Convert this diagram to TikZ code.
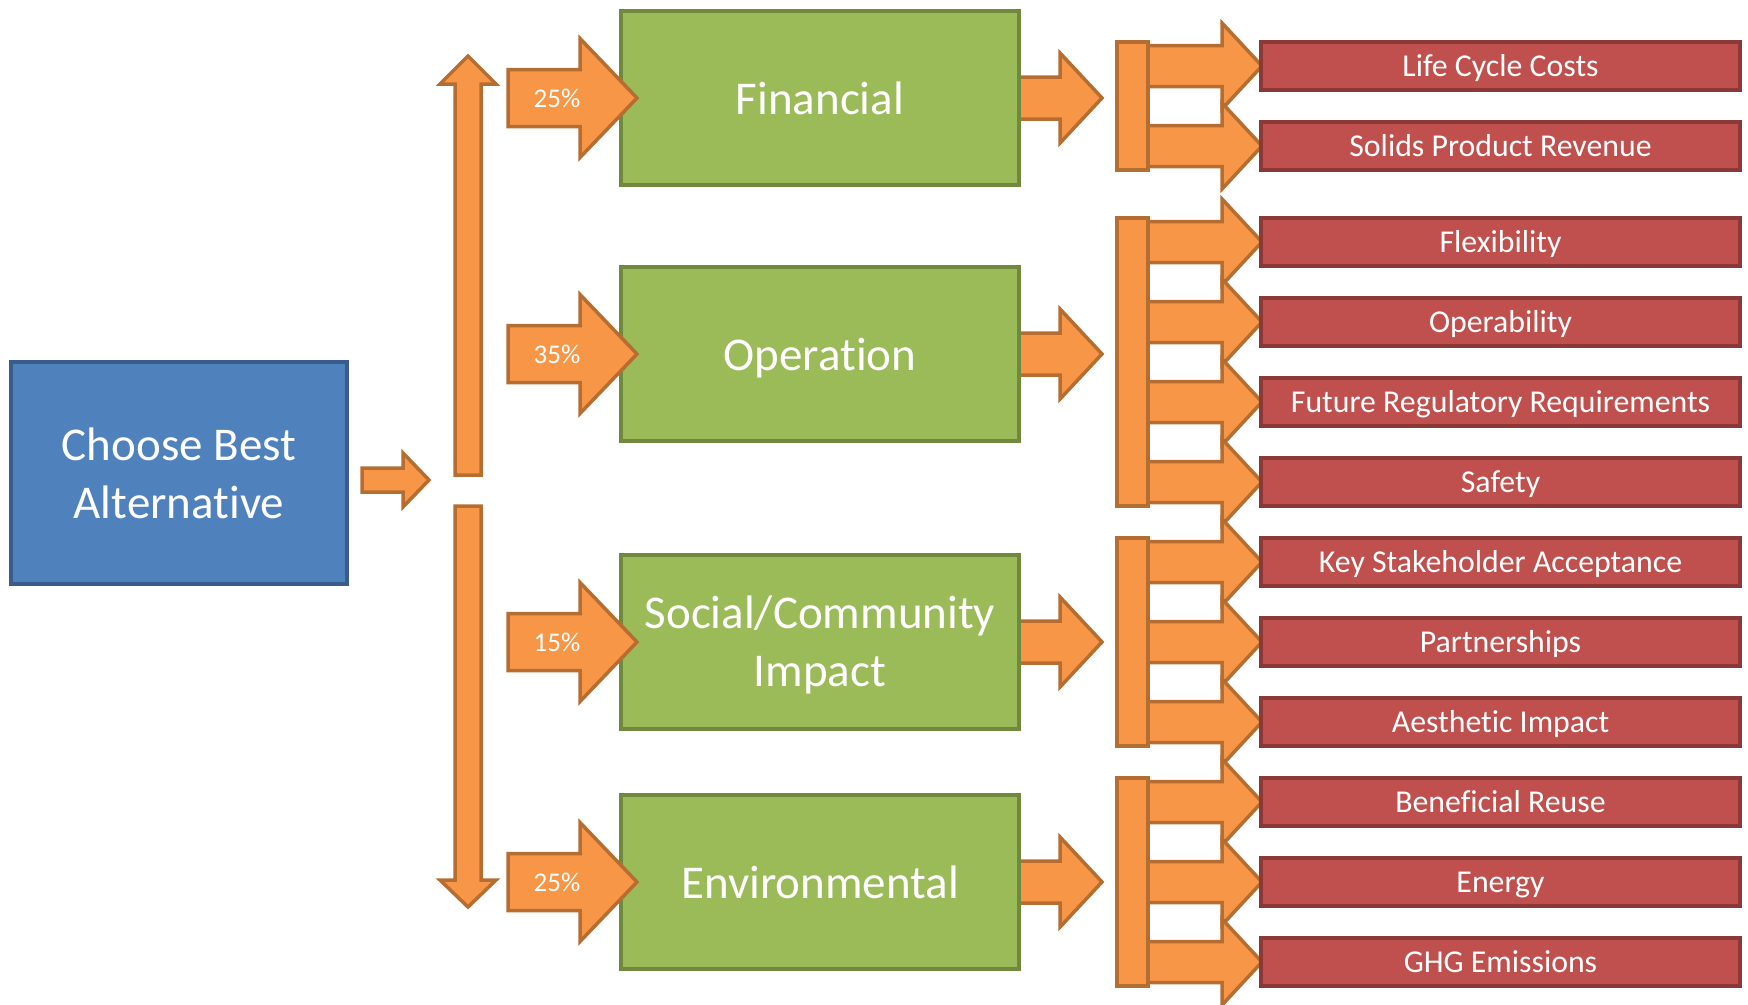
\documentclass[tikz,border=0pt]{standalone}
\usepackage{fontspec}
\setmainfont[Ligatures={NoCommon,NoContextual}]{Carlito}
\definecolor{bfill}{HTML}{4F81BD}
\definecolor{bline}{HTML}{385D8A}
\definecolor{gfill}{HTML}{9BBB59}
\definecolor{gline}{HTML}{71893F}
\definecolor{rfill}{HTML}{C0504D}
\definecolor{rline}{HTML}{8C3836}
\definecolor{ofill}{HTML}{F79646}
\definecolor{oline}{HTML}{B66D31}
\newcommand\harr[6]{%
  \filldraw[arr] (#1,#4-#5) -- (#2,#4-#5) -- (#2,#4-#6) -- (#3,#4) -- (#2,#4+#6) -- (#2,#4+#5) -- (#1,#4+#5) -- cycle;}
\newcommand\dn[1]{\raisebox{-3.3pt}[\height][\depth]{#1}}
\begin{document}
\begin{tikzpicture}[x=1pt,y=-1pt,line join=miter,
  box/.style={draw, line width=4pt, text=white, inner sep=0pt, align=center},
  bluebox/.style={box, fill=bfill, draw=bline, minimum width=336, minimum height=222, font=\fontsize{47}{58}\selectfont},
  greenbox/.style={box, fill=gfill, draw=gline, minimum width=398, minimum height=174, font=\fontsize{47}{58}\selectfont},
  greenone/.style={greenbox, text height=32.4pt, text depth=0pt},
  redbox/.style={box, fill=rfill, draw=rline, minimum width=479, minimum height=48, font=\fontsize{31.8}{36}\selectfont, text height=21.4pt, text depth=0pt},
  bracket/.style={draw=oline, fill=ofill, line width=3.5pt},
  arr/.style={draw=oline, fill=ofill, line width=3.5pt},
  pct/.style={text=white, inner sep=0pt, font=\fontsize{27}{30}\selectfont}]
\useasboundingbox (0,0) rectangle (1748,1004);

% main box
\node[bluebox] (best) at (179,473) {Choose Best\\Alternative};
\harr{362}{403}{429}{480}{12}{27}

% vertical arrows
\filldraw[arr] (455,475) -- (455,84) -- (440,84) -- (468,56) -- (496,84) -- (481,84) -- (481,475) -- cycle;
\filldraw[arr] (455,506) -- (455,880) -- (440,880) -- (468,907) -- (496,880) -- (481,880) -- (481,506) -- cycle;

% arrows from green boxes to brackets (drawn under green boxes)
\harr{1010}{1060}{1102}{98}{21}{45}
\harr{1010}{1060}{1102}{354}{21}{45}
\harr{1010}{1060}{1102}{642}{21}{45}
\harr{1010}{1060}{1102}{882}{21}{45}

% green boxes
\node[greenone] (fin) at (820,98) {Financial};
\node[greenone] (ope) at (820,354) {Operation};
\node[greenbox] (soc) at (820,642) {\dn{Social/Community}\\\dn{Impact}};
\node[greenone] (env) at (820,882) {Environmental};

% percentage arrows
\harr{508}{580}{637}{98}{28.5}{59.5}
\harr{508}{580}{637}{354}{28.5}{59.5}
\harr{508}{580}{637}{642}{28.5}{59.5}
\harr{508}{580}{637}{882}{28.5}{59.5}
\node[pct] (p1) at (557,98) {25\%};
\node[pct] (p2) at (557,354) {35\%};
\node[pct] (p3) at (557,642) {15\%};
\node[pct] (p4) at (557,882) {25\%};

% branch arrows
\foreach \yy in {66,146,242,322,402,482,562,642,722,802,882,962}{
  \harr{1135}{1222}{1262}{\yy}{20.5}{43}
}

% brackets
\filldraw[bracket] (1117,42) rectangle (1148,170);
\filldraw[bracket] (1117,218) rectangle (1148,506);
\filldraw[bracket] (1117,538) rectangle (1148,746);
\filldraw[bracket] (1117,778) rectangle (1148,986);

% red boxes
\node[redbox] (r1) at (1500.5,66) {Life Cycle Costs};
\node[redbox] (r2) at (1500.5,146) {Solids Product Revenue};
\node[redbox] (r3) at (1500.5,242) {Flexibility};
\node[redbox] (r4) at (1500.5,322) {Operability};
\node[redbox] (r5) at (1500.5,402) {Future Regulatory Requirements};
\node[redbox] (r6) at (1500.5,482) {Safety};
\node[redbox] (r7) at (1500.5,562) {Key Stakeholder Acceptance};
\node[redbox] (r8) at (1500.5,642) {Partnerships};
\node[redbox] (r9) at (1500.5,722) {Aesthetic Impact};
\node[redbox] (r10) at (1500.5,802) {Beneficial Reuse};
\node[redbox] (r11) at (1500.5,882) {Energy};
\node[redbox] (r12) at (1500.5,962) {GHG Emissions};
\end{tikzpicture}
\end{document}
